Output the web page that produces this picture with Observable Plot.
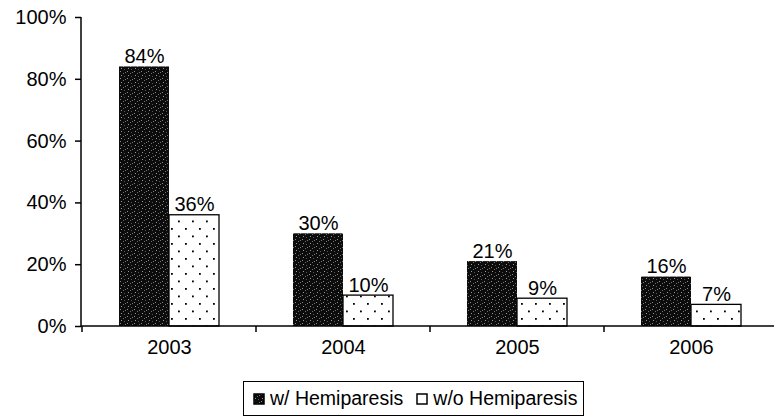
<!DOCTYPE html>
<html>
<head>
<meta charset="utf-8">
<script src="https://cdn.jsdelivr.net/npm/d3@7"></script>
<script src="https://cdn.jsdelivr.net/npm/@observablehq/plot@0.6"></script>
<style>
  html, body { margin: 0; padding: 0; background: #fff; overflow: hidden; }
  body { width: 774px; height: 419px; font-family: "Liberation Sans", Arial, sans-serif; }
  #chart svg { display: block; overflow: hidden; }
  #legend {
    position: absolute; left: 243px; top: 381px; width: 341px; height: 35px;
    border: 1px solid #000; box-sizing: border-box; white-space: nowrap;
    display: flex; align-items: center; font-size: 19.5px; color: #000;
  }
  #legend .item { display: flex; align-items: center; margin-left: 9px; }
  #legend .item + .item { margin-left: 13px; }
  #legend svg { margin-right: 5px; }
</style>
</head>
<body>
<svg width="0" height="0" style="position:absolute">
  <defs>
    <pattern id="darkTex" width="7" height="7" patternUnits="userSpaceOnUse">
      <rect width="7" height="7" fill="#0c0c0c"></rect>
      <rect x="1" y="1" width="1" height="1" fill="#8a8a8a"></rect>
      <rect x="4" y="3" width="1" height="1" fill="#6e6e6e"></rect>
      <rect x="2" y="5" width="1" height="1" fill="#9a9a9a"></rect>
      <rect x="5" y="6" width="1" height="1" fill="#555"></rect>
      <rect x="6" y="2" width="1" height="1" fill="#777"></rect>
    </pattern>
    <pattern id="dotTex" width="14" height="15" patternUnits="userSpaceOnUse">
      <rect width="14" height="15" fill="#fff"></rect>
      <rect x="3" y="3" width="1.8" height="1.8" fill="#000"></rect>
      <rect x="10" y="10.5" width="1.8" height="1.8" fill="#000"></rect>
    </pattern>
  </defs>
</svg>
<div id="chart"></div>
<div id="legend"></div>
<script>
const years = ["2003", "2004", "2005", "2006"];
const withHemiparesis = [84, 30, 21, 16];
const withoutHemiparesis = [36, 10, 9, 7];
const seriesNames = ["w/ Hemiparesis", "w/o Hemiparesis"];
const yTicks = [0, 20, 40, 60, 80, 100];

const data = [];
years.forEach((y, i) => {
  data.push({year: y, series: seriesNames[0], value: withHemiparesis[i]});
  data.push({year: y, series: seriesNames[1], value: withoutHemiparesis[i]});
});
const dark = data.filter(d => d.series === seriesNames[0]);
const light = data.filter(d => d.series === seriesNames[1]);

// axis lines and between-category ticks drawn from the scales
function axisLines(index, scales, values, dimensions) {
  const x = scales.x, y = scales.y;
  const step = x(years[1]) - x(years[0]);
  const g = d3.create("svg:g").attr("stroke", "#000").attr("stroke-width", 1.5).attr("fill", "none");
  const x0 = dimensions.marginLeft;
  g.append("line").attr("x1", x0).attr("x2", x0).attr("y1", y(100)).attr("y2", y(0));
  g.append("line").attr("x1", x0).attr("x2", dimensions.width).attr("y1", y(0)).attr("y2", y(0));
  const edges = years.map(v => x(v)).concat([x(years[years.length - 1]) + step]);
  edges.forEach(e => {
    g.append("line").attr("x1", e).attr("x2", e).attr("y1", y(0)).attr("y2", y(0) + 6);
  });
  return g.node();
}

const chart = Plot.plot({
  width: 774,
  height: 370,
  marginLeft: 81,
  marginRight: -4,
  marginTop: 17,
  marginBottom: 44,
  style: {fontFamily: "'Liberation Sans', Arial, sans-serif", fontSize: "20px", color: "#000", background: "#fff"},
  x: {domain: years, padding: 0, label: null},
  y: {domain: [0, 100], label: null},
  marks: [
    Plot.barY(dark, {x: "year", y: "value", fill: "url(#darkTex)", insetLeft: 37, insetRight: 87}),
    Plot.barY(light, {x: "year", y: "value", fill: "url(#dotTex)", stroke: "#000", strokeWidth: 1.3, insetLeft: 87, insetRight: 37}),
    Plot.text(dark, {x: "year", y: "value", text: d => d.value + "%", dx: -25, dy: -4, lineAnchor: "bottom", fontSize: 20, fill: "#000"}),
    Plot.text(light, {x: "year", y: "value", text: d => d.value + "%", dx: 25, dy: -4, lineAnchor: "bottom", fontSize: 20, fill: "#000"}),
    Plot.axisY({ticks: yTicks, tickFormat: d => d + "%", tickSize: 6, tickPadding: 9, strokeWidth: 1.5, fontSize: 20, label: null}),
    Plot.axisX({tickSize: 0, tickPadding: 13, fontSize: 20, label: null}),
    axisLines
  ]
});
document.getElementById("chart").appendChild(chart);

// legend
const legend = d3.select("#legend");
const fills = ["url(#darkTex)", "#fff"];
seriesNames.forEach((name, i) => {
  const item = legend.append("div").attr("class", "item");
  const sw = item.append("svg").attr("width", 12).attr("height", 12);
  sw.append("rect").attr("x", 1).attr("y", 1).attr("width", 10).attr("height", 10)
    .attr("fill", fills[i]).attr("stroke", "#000").attr("stroke-width", 1.5);
  item.append("span").text(name);
});
</script>
</body>
</html>
